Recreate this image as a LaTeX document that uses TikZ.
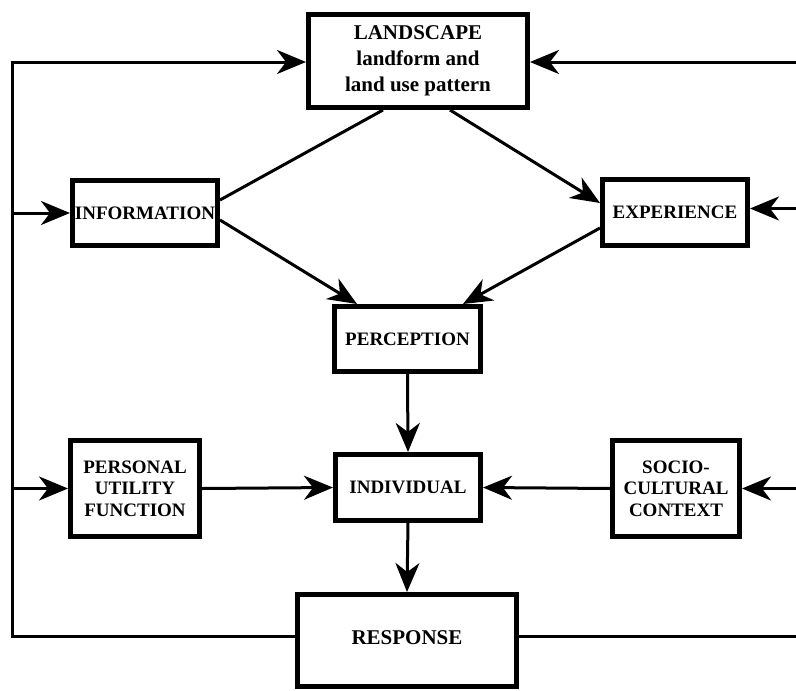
\documentclass[tikz,border=0pt]{standalone}
\usepackage{fontspec}
\setmainfont{Liberation Serif}[BoldFont={Liberation Serif Bold}]
\usetikzlibrary{arrows.meta}
\tikzset{
  box/.style={draw, line width=5pt, fill=white, inner sep=0pt, align=center,
    font=\bfseries\fontsize{19}{21.5}\selectfont},
  bigbox/.style={box, font=\bfseries\fontsize{21}{26}\selectfont},
  conn/.style={line width=3pt, line join=miter},
  flow/.style={conn, -{Stealth[length=29pt,width=24pt,inset=9pt]}},
}
\begin{document}
\begin{tikzpicture}[x=1pt,y=-1pt]
\useasboundingbox (0,0) rectangle (796,691);

% boxes
\node[bigbox, minimum width=219pt, minimum height=93pt] (land) at (418,61)
  {LANDSCAPE\\landform and\\land use pattern};
\node[box, minimum width=145pt, minimum height=65pt] (info) at (145,213) {INFORMATION};
\node[box, minimum width=145pt, minimum height=66pt] (exp) at (675,212.5) {EXPERIENCE};
\node[box, minimum width=146pt, minimum height=65pt] (perc) at (407.5,339) {PERCEPTION};
\node[box, minimum width=145pt, minimum height=66pt] (indiv) at (408,487.5) {INDIVIDUAL};
\node[box, minimum width=129pt, minimum height=96pt] (pers) at (135,488.5)
  {PERSONAL\\UTILITY\\FUNCTION};
\node[box, minimum width=127pt, minimum height=96pt] (soc) at (676,488.5)
  {SOCIO-\\CULTURAL\\CONTEXT};
\node[bigbox, minimum width=219pt, minimum height=92pt] (resp) at (407,640.5)
  {\raisebox{6pt}{RESPONSE}};

% feedback frame
\coordinate (lt) at (12,62);
\coordinate (lb) at (12,636);
\coordinate (rt) at (796,62);
\coordinate (rb) at (796,636);

% left feedback loop
\draw[flow] (resp.west |- lb) -- (lb) -- (lt) -- (land.west |- lt);
\draw[flow] (lt |- info.west) -- (info.west);
\draw[flow] (lt |- pers.west) -- (pers.west);

% right feedback inputs
\draw[conn] (resp.east |- rb) -- (rb);
\draw[flow] (rt) -- (land.east |- rt);
\draw[flow] ([yshift=4pt]exp.east -| rt) -- ([yshift=4pt]exp.east);
\draw[flow] (rt |- soc.east) -- (soc.east);

% landscape to information and experience
\draw[conn] ([xshift=-35pt]land.south) -- ([yshift=13pt]info.east);
\draw[flow] ([xshift=32pt]land.south) -- ([yshift=9.5pt]exp.west);

% information and experience to perception
\draw[flow] ([yshift=-7pt]info.east) -- ([xshift=-50.5pt]perc.north);
\draw[flow] ([yshift=-15.5pt]exp.west) -- ([xshift=55.5pt]perc.north);

% central chain
\draw[flow] (perc.south) -- (indiv.north);
\draw[flow] (pers.east) -- (indiv.west);
\draw[flow] (soc.west) -- (indiv.east);
\draw[flow] (indiv.south) -- (resp.north);
\end{tikzpicture}
\end{document}
